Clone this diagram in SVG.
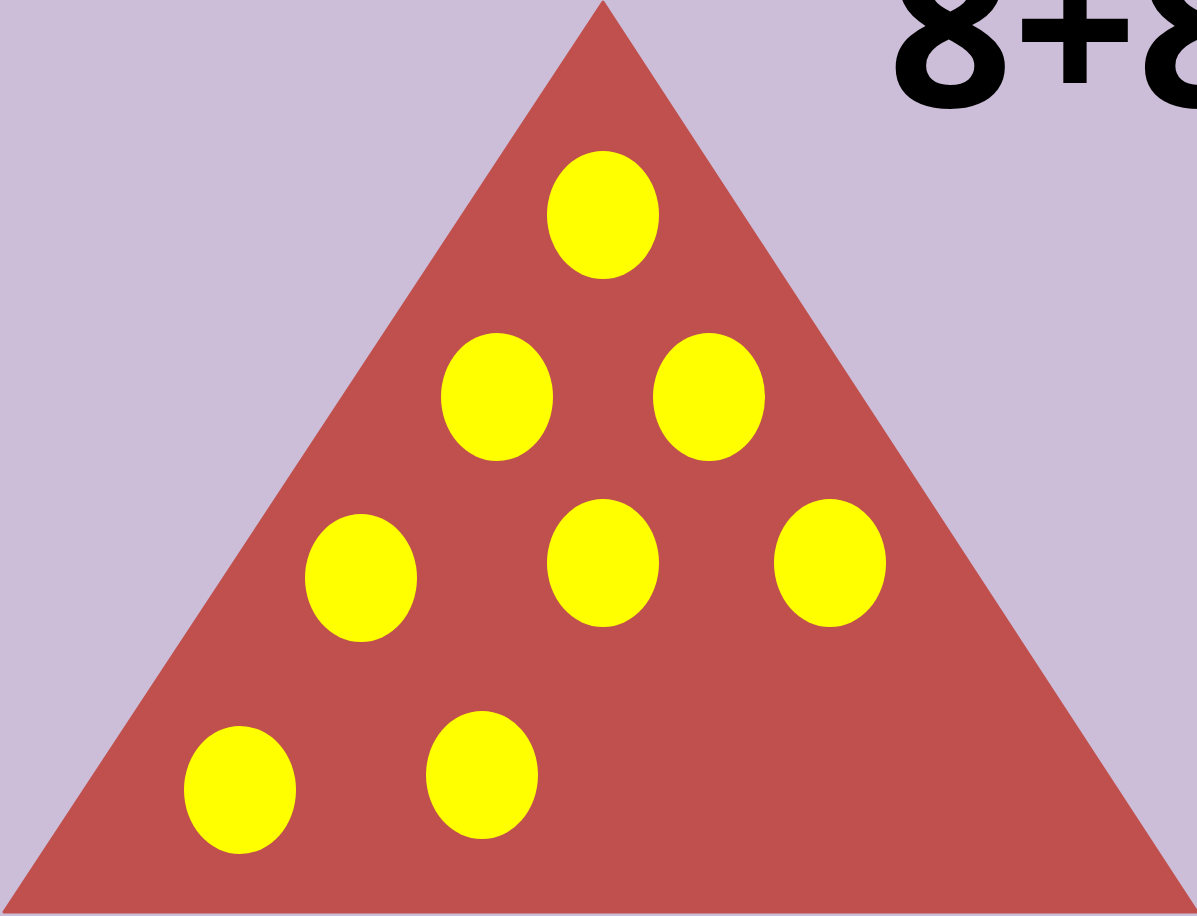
<svg xmlns="http://www.w3.org/2000/svg" width="1197" height="916" viewBox="0 0 1197 916">
<style>
.dot{fill:#FFFF00}
.lbl{font-family:"Open Sans","Noto Sans",sans-serif;font-weight:bold;fill:#000}
</style>
<rect width="1197" height="916" fill="#CCBED8"/>
<g id="triangle">
<polygon points="603,2 4,912 1197,912" fill="#C0504D" stroke="#C0504D" stroke-width="3" stroke-linejoin="round"/>
</g>
<g id="dots">
<ellipse id="d1" class="dot" cx="603" cy="215" rx="56" ry="64"/>
<ellipse id="d2" class="dot" cx="497" cy="397" rx="56" ry="64"/>
<ellipse id="d3" class="dot" cx="709" cy="397" rx="56" ry="64"/>
<ellipse id="d4" class="dot" cx="361" cy="578" rx="56" ry="64"/>
<ellipse id="d5" class="dot" cx="603" cy="563" rx="56" ry="64"/>
<ellipse id="d6" class="dot" cx="830" cy="563" rx="56" ry="64"/>
<ellipse id="d7" class="dot" cx="240" cy="790" rx="56" ry="64"/>
<ellipse id="d8" class="dot" cx="482" cy="775" rx="56" ry="64"/>
</g>
<g id="label">
<text class="lbl" x="888" y="107" font-size="218">8+8</text>
</g>
</svg>
